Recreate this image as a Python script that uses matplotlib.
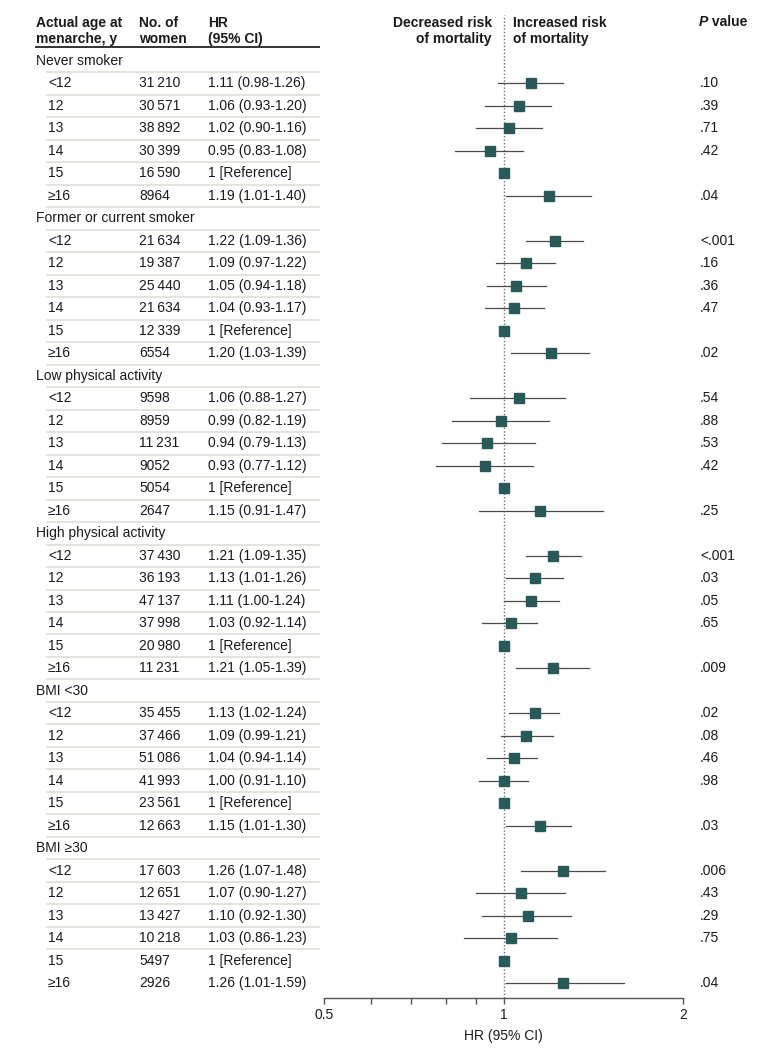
import matplotlib
matplotlib.use("Agg")
import matplotlib.pyplot as plt
from matplotlib.ticker import NullFormatter
from matplotlib.transforms import blended_transform_factory

plt.rcParams["font.family"] = ["Liberation Sans", "DejaVu Sans"]
plt.rcParams["font.size"] = 10

# Data
groups = ["Never smoker", "Former or current smoker", "Low physical activity",
          "High physical activity", "BMI <30", "BMI \u226530"]
ages = ["<12", "12", "13", "14", "15", "\u226516"]

n_women = [
    [31210, 30571, 38892, 30399, 16590, 8964],
    [21634, 19387, 25440, 21634, 12339, 6554],
    [9598, 8959, 11231, 9052, 5054, 2647],
    [37430, 36193, 47137, 37998, 20980, 11231],
    [35455, 37466, 51086, 41993, 23561, 12663],
    [17603, 12651, 13427, 10218, 5497, 2926],
]
hr = [
    [1.11, 1.06, 1.02, 0.95, 1, 1.19],
    [1.22, 1.09, 1.05, 1.04, 1, 1.20],
    [1.06, 0.99, 0.94, 0.93, 1, 1.15],
    [1.21, 1.13, 1.11, 1.03, 1, 1.21],
    [1.13, 1.09, 1.04, 1.00, 1, 1.15],
    [1.26, 1.07, 1.10, 1.03, 1, 1.26],
]
ci_lo = [
    [0.98, 0.93, 0.90, 0.83, None, 1.01],
    [1.09, 0.97, 0.94, 0.93, None, 1.03],
    [0.88, 0.82, 0.79, 0.77, None, 0.91],
    [1.09, 1.01, 1.00, 0.92, None, 1.05],
    [1.02, 0.99, 0.94, 0.91, None, 1.01],
    [1.07, 0.90, 0.92, 0.86, None, 1.01],
]
ci_hi = [
    [1.26, 1.20, 1.16, 1.08, None, 1.40],
    [1.36, 1.22, 1.18, 1.17, None, 1.39],
    [1.27, 1.19, 1.13, 1.12, None, 1.47],
    [1.35, 1.26, 1.24, 1.14, None, 1.39],
    [1.24, 1.21, 1.14, 1.10, None, 1.30],
    [1.48, 1.27, 1.30, 1.23, None, 1.59],
]
p_values = [
    [".10", ".39", ".71", ".42", "", ".04"],
    ["<.001", ".16", ".36", ".47", "", ".02"],
    [".54", ".88", ".53", ".42", "", ".25"],
    ["<.001", ".03", ".05", ".65", "", ".009"],
    [".02", ".08", ".46", ".98", "", ".03"],
    [".006", ".43", ".29", ".75", "", ".04"],
]

W, H = 780, 1052
TXT = "#1a1a1a"
SQ = "#285a58"
ROW_H = 22.49
ROW0 = 61


def fx(px):
    return px / W


def fmt_n(n):
    s = f"{n:,}".replace(",", "\u2009")
    return s if n >= 10000 else str(n)


def fmt_hr(h, lo, hi):
    if lo is None:
        return "1 [Reference]"
    return f"{h:.2f} ({lo:.2f}-{hi:.2f})"


fig = plt.figure(figsize=(W / 100, H / 100), dpi=100)
ax_top, ax_bot = 15, 998
ax = fig.add_axes([fx(324), 1 - ax_bot / H, fx(683 - 324), (ax_bot - ax_top) / H])
ax.set_xscale("log", base=2)
ax.set_xlim(0.5, 2)
ax.set_ylim((ax_bot - ROW0) / ROW_H, (ax_top - ROW0) / ROW_H)

tr = blended_transform_factory(fig.transFigure, ax.transData)

# header
hy = (31 - ROW0) / ROW_H
hdr = dict(transform=tr, va="center", fontweight="bold", color=TXT, linespacing=1.25)
ax.text(fx(36), hy, "Actual age at\nmenarche, y", ha="left", **hdr)
ax.text(fx(139), hy, "No. of\nwomen", ha="left", **hdr)
ax.text(fx(208), hy, "HR\n(95% CI)", ha="left", **hdr)
ax.text(fx(492), hy, "Decreased risk\nof mortality", ha="right", **hdr)
ax.text(fx(513), hy, "Increased risk\nof mortality", ha="left", **hdr)
tp = ax.text(fx(699), (22.5 - ROW0) / ROW_H, "P", ha="left", va="center", transform=tr,
             fontweight="bold", fontstyle="italic", color=TXT)
ax.annotate(" value", xy=(1, 0), xycoords=tp, va="bottom", ha="left",
            fontweight="bold", color=TXT)
ax.plot([fx(35), fx(320)], [(47 - ROW0) / ROW_H] * 2, transform=tr, color="#222222",
        lw=1.3, clip_on=False, solid_capstyle="butt")

ax.axvline(1, color="#707070", lw=1, ls=(0, (1, 1.5)), zorder=1)

row = 0
for g, name in enumerate(groups):
    ax.text(fx(36), row, name, transform=tr, ha="left", va="center", color=TXT)
    for k, age in enumerate(ages):
        row += 1
        ax.text(fx(48), row, age, transform=tr, ha="left", va="center", color=TXT)
        ax.text(fx(139), row, fmt_n(n_women[g][k]), transform=tr, ha="left",
                va="center", color=TXT)
        ax.text(fx(208), row, fmt_hr(hr[g][k], ci_lo[g][k], ci_hi[g][k]), transform=tr,
                ha="left", va="center", color=TXT)
        ax.text(fx(700), row, p_values[g][k], transform=tr, ha="left", va="center",
                color=TXT)
        if ci_lo[g][k] is not None:
            ax.plot([ci_lo[g][k], ci_hi[g][k]], [row, row], color="#4a4a4a", lw=0.9,
                    zorder=2)
        ax.plot([hr[g][k]], [row], marker="s", ms=6.5, color=SQ, mec=SQ, zorder=3)
    row += 1

# separator lines between table rows
for i in range(row - 2):
    ax.plot([fx(46), fx(320)], [i + 0.5] * 2, transform=tr, color="#e2ded6", lw=1.2,
            clip_on=False, solid_capstyle="butt")

for s in ["left", "top", "right"]:
    ax.spines[s].set_visible(False)
ax.spines["bottom"].set_color("#555555")
ax.spines["bottom"].set_linewidth(1)
ax.set_yticks([])
ax.set_xticks([0.5, 1, 2], ["0.5", "1", "2"])
ax.set_xticks([0.6, 0.7, 0.8, 0.9], minor=True)
ax.xaxis.set_minor_formatter(NullFormatter())
ax.tick_params(axis="x", which="both", direction="out", length=4, width=1,
               color="#555555", labelcolor=TXT, labelsize=10, pad=3)
ax.set_xlabel("HR (95% CI)", fontsize=10, color=TXT, labelpad=5)

fig.savefig("out.png", dpi=100)
